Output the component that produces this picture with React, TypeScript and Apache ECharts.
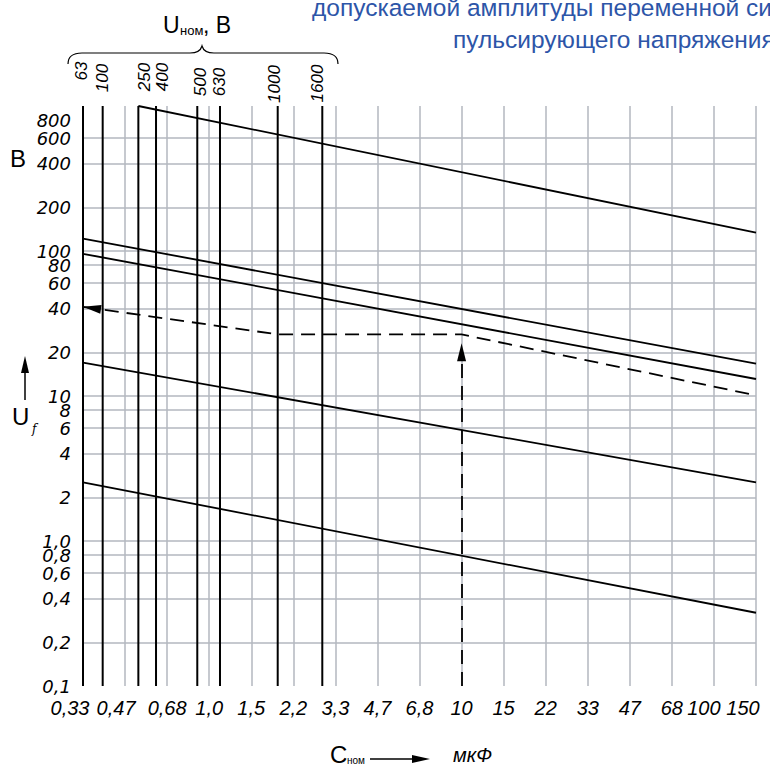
import React, { useEffect, useRef } from 'react';
import * as echarts from 'echarts';

// ---- data ----
const xLabels = ['0,33', '0,47', '0,68', '1,0', '1,5', '2,2', '3,3', '4,7', '6,8', '10', '15', '22', '33', '47', '68', '100', '150'];
const yTickValues = [0.1, 0.2, 0.4, 0.6, 0.8, 1, 2, 4, 6, 8, 10, 20, 40, 60, 80, 100, 200, 400, 600, 800];
const yTickLabels = ['0,1', '0,2', '0,4', '0,6', '0,8', '1,0', '2', '4', '6', '8', '10', '20', '40', '60', '80', '100', '200', '400', '600', '800'];

// rated voltage lines (position on the capacitance scale, in E6 steps from 0,33)
const uNomLabels = ['63', '100', '250', '400', '500', '630', '1000', '1600'];
const uNomPos = [0, 0.468, 1.316, 1.736, 2.717, 3.257, 4.629, 5.689];

// sloped characteristic lines: positions and voltages at their ends
const line1X = [1.316, 16];
const line1U = [1000, 134];
const line2X = [0, 16];
const line2U = [121.8, 16.7];
const line3X = [0, 16];
const line3U = [95.7, 13.1];
const line4X = [0, 16];
const line4U = [17.0, 2.54];
const line5X = [0, 16];
const line5U = [2.54, 0.32];

// worked example (dashed)
const exampleX = [0, 4.629, 9, 16];
const exampleU = [41.2, 26.6, 26.6, 10.1];
const exampleCX = 9;
const exampleArrowU = 20;

// ---- layout ----
const uNomLabelDx = [-1.5, 0, 6, 6.5, 3, 0, -3, -5];
const uNomLabelCy = [71, 78, 77, 77, 82, 82, 84, 83.5];
const xLabelShift: Record<number, number> = { 0: 26, 1: 18, 15: 20, 16: 26 };
const ARROW_HALF = 0.214; // half arrow length in axis units

const GRID = '#b3b7bf';
const BLUE = '#2d55a8';
const lg = (u: number) => Math.log10(u);

export default function App() {
  const ref = useRef<HTMLDivElement>(null);
  useEffect(() => {
    if (!ref.current) return;
    try {
      echarts.graphic.registerShape(
        'brace',
        echarts.graphic.extendPath('M68,64 Q68,53 82,53 L190,53 Q200,53 202,46 Q204,53 214,53 L324,53 Q338,53 338,64', {})
      );
    } catch (e) {}
    const chart = echarts.init(ref.current, null, { renderer: 'svg' });

    const xFont = { fontSize: 20, fontStyle: 'italic', fontFamily: 'Liberation Sans', color: '#000' };
    const rich: Record<string, any> = {};
    Object.keys(xLabelShift).forEach((k) => {
      rich['s' + k] = { ...xFont, padding: [0, xLabelShift[Number(k)], 0, 0] };
    });

    const lineSeries = (xs: number[], us: number[], extra: any = {}) => ({
      type: 'line',
      data: xs.map((x, i) => [x, lg(us[i])]),
      symbol: 'none',
      silent: true,
      clip: true,
      lineStyle: { color: '#000', width: 1.8 },
      z: 3,
      ...extra,
    });

    const series: any[] = [];
    uNomPos.forEach((x) => {
      series.push({
        type: 'line',
        data: [[x, -1], [x, 3]],
        symbol: 'none',
        silent: true,
        lineStyle: { color: '#000', width: 2 },
        z: 4,
      });
    });
    series.push(lineSeries(line1X, line1U));
    series.push(lineSeries(line2X, line2U));
    series.push(lineSeries(line3X, line3U));
    series.push(lineSeries(line4X, line4U));
    series.push(lineSeries(line5X, line5U));

    // example dashed path
    const ex0 = [exampleX[0], lg(exampleU[0])];
    const ex1 = [exampleX[1], lg(exampleU[1])];
    const slope = (ex1[1] - ex0[1]) / (ex1[0] - ex0[0]);
    const aEnd = ex0[0] + ARROW_HALF;
    const aStart = aEnd + 0.05;
    series.push(
      lineSeries(exampleX, exampleU, {
        lineStyle: { color: '#000', width: 1.8, type: [14, 8] },
        markLine: {
          silent: true,
          symbol: ['none', 'triangle'],
          symbolSize: [9, 18],
          label: { show: false },
          lineStyle: { color: '#000', width: 1.8, type: [14, 8] },
          data: [
            [{ coord: [exampleCX, -1] }, { coord: [exampleCX, lg(exampleArrowU)] }],
            [
              { coord: [aStart, ex0[1] + slope * aStart], lineStyle: { width: 0 } },
              { coord: [aEnd, ex0[1] + slope * aEnd] },
            ],
          ],
        },
      })
    );

    const yCustom = yTickValues.map(lg);

    chart.setOption({
      animation: false,
      textStyle: { fontFamily: 'Liberation Sans' },
      grid: { left: 83, right: 14, top: 106, bottom: 81, containLabel: false },
      xAxis: {
        type: 'value',
        min: 0,
        max: 16,
        interval: 1,
        axisLine: { show: false },
        axisTick: { show: false },
        splitLine: { show: true, showMinLine: false, lineStyle: { color: GRID, width: 1.5 } },
        axisLabel: {
          margin: 12,
          ...xFont,
          rich,
          showMinLabel: true,
          showMaxLabel: true,
          formatter: (v: number) => {
            const i = Math.round(v);
            const t = xLabels[i] ?? '';
            return xLabelShift[i] !== undefined ? `{s${i}|${t}}` : t;
          },
        },
      },
      yAxis: {
        type: 'value',
        min: -1,
        max: 3,
        axisLine: { show: false },
        axisTick: { show: false, customValues: yCustom },
        splitLine: { show: true, showMinLine: false, showMaxLine: false, lineStyle: { color: GRID, width: 1.5 } },
        axisLabel: {
          customValues: yCustom,
          showMinLabel: true,
          showMaxLabel: true,
          margin: 12,
          fontSize: 18,
          lineHeight: 14,
          fontStyle: 'italic',
          fontFamily: 'DejaVu Sans',
          color: '#000',
          formatter: (v: number) => {
            const i = yCustom.findIndex((c) => Math.abs(c - v) < 1e-6);
            return i >= 0 ? yTickLabels[i] : '';
          },
        },
      },
      series,
    });

    const txt = (text: string, x: number, y: number, fontSize: number, extra: any = {}) => ({
      type: 'text',
      x,
      y,
      silent: true,
      style: {
        text,
        fontSize,
        fontFamily: 'Liberation Sans',
        fill: '#000',
        align: 'left',
        verticalAlign: 'middle',
        ...extra,
      },
    });

    const labelGraphics = uNomLabels.map((t, i) => {
      const p = chart.convertToPixel({ gridIndex: 0 }, [uNomPos[i], 3]) as number[];
      return {
        type: 'text',
        x: p[0] + uNomLabelDx[i],
        y: uNomLabelCy[i],
        rotation: Math.PI / 2,
        silent: true,
        style: {
          text: t,
          fontSize: 17,
          fontStyle: 'italic',
          fontFamily: 'Liberation Sans',
          fill: '#000',
          align: 'center',
          verticalAlign: 'middle',
        },
      };
    });

    chart.setOption({
      graphic: [
        { type: 'brace', x: 0, y: 0, silent: true, style: { fill: 'none', stroke: '#000', lineWidth: 1.2 } },
        txt('U', 163, 25, 23),
        txt('ном', 180, 30.5, 13),
        txt(', В', 203, 25, 23),
        txt('допускаемой амплитуды переменной синусоидальной составляющей', 312, 7, 24.5, { fill: BLUE }),
        txt('пульсирующего напряжения', 453, 39, 24.5, { fill: BLUE }),
        txt('В', 10, 158.5, 24),
        txt('U', 12, 416.5, 24),
        txt('f', 32, 429, 12, { fontFamily: 'DejaVu Serif', fontStyle: 'italic' }),
        { type: 'line', silent: true, shape: { x1: 25, y1: 400, x2: 25, y2: 372 }, style: { stroke: '#000', lineWidth: 1.5 } },
        { type: 'polygon', silent: true, shape: { points: [[25, 356], [21, 373], [29, 373]] }, style: { fill: '#000' } },
        txt('C', 330, 754, 24, { lineHeight: 22 }),
        txt('ном', 347, 760, 10),
        { type: 'line', silent: true, shape: { x1: 370, y1: 759, x2: 413, y2: 759 }, style: { stroke: '#000', lineWidth: 1.5 } },
        { type: 'polygon', silent: true, shape: { points: [[430, 759], [412, 755], [412, 763]] }, style: { fill: '#000' } },
        txt('мкФ', 453, 755, 20, { fontStyle: 'italic' }),
        ...labelGraphics,
      ],
    });

    return () => chart.dispose();
  }, []);
  return <div ref={ref} style={{ position: 'absolute', left: 0, top: 0, width: 770, height: 767 }} />;
}
